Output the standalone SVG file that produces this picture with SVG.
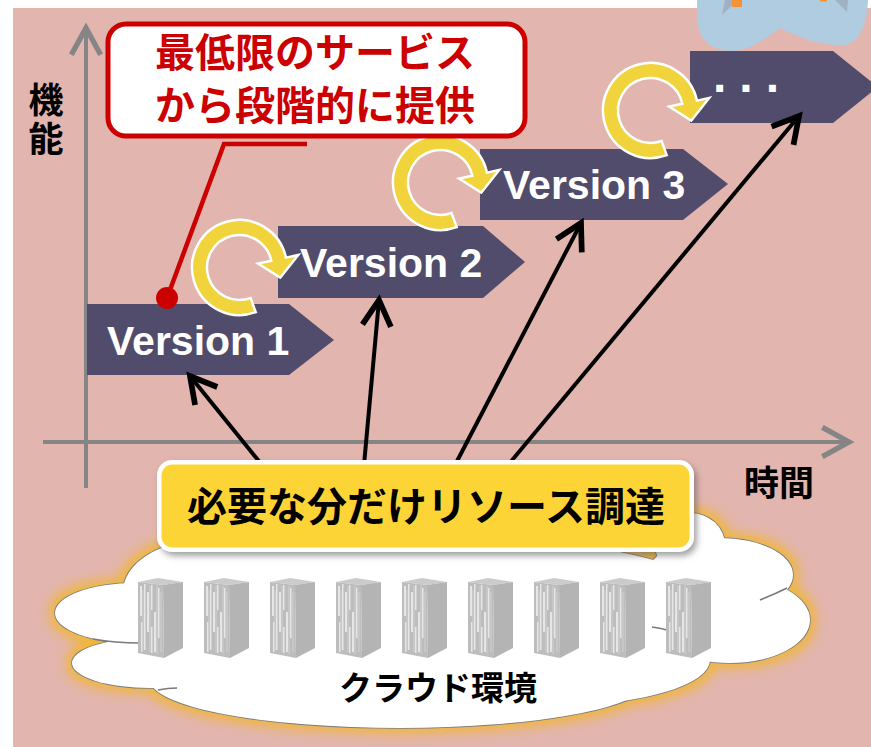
<svg xmlns="http://www.w3.org/2000/svg" width="871" height="747" viewBox="0 0 871 747">
  <style>
    .jp { font-family: "Noto Sans CJK JP", "Noto Sans", sans-serif; font-weight: 700; }
    .ver { font-family: "Liberation Sans", Arial, sans-serif; font-weight: 700; font-size: 41px; fill: #ffffff; }
    .step { fill: #514c6b; }
    .cycle { fill: #f1d33b; stroke: #ffffff; stroke-width: 2.5; }
    .axis { stroke: #858585; stroke-width: 4; fill: none; }
    .link { stroke: #000000; stroke-width: 4; fill: none; }
    .cloud-edge { fill: none; stroke: #7a7a7a; stroke-width: 1.6; }
    .cloud-fill { fill: #ffffff; }
  </style>
  <defs>
    <marker id="arrowBlack" markerUnits="userSpaceOnUse" markerWidth="40" markerHeight="40" viewBox="-22 -14 26 28" refX="0" refY="0" orient="auto">
      <path d="M-18,-10 L0,0 L-18,10" fill="none" stroke="#000" stroke-width="4" stroke-linejoin="miter"/>
    </marker>
    <marker id="arrowGray" markerUnits="userSpaceOnUse" markerWidth="40" markerHeight="40" viewBox="-24 -15 28 30" refX="0" refY="0" orient="auto">
      <path d="M-20,-11 L0,0 L-20,11" fill="none" stroke="#858585" stroke-width="4"/>
    </marker>
    <filter id="glow" x="-20%" y="-30%" width="140%" height="160%">
      <feMorphology operator="dilate" radius="5"/>
      <feGaussianBlur stdDeviation="6"/>
    </filter>
    <filter id="boxShadow" x="-10%" y="-20%" width="120%" height="150%">
      <feDropShadow dx="3" dy="4" stdDeviation="3" flood-color="#555" flood-opacity="0.55"/>
    </filter>
    <!-- circular "iterate" arrow centred on the origin -->
    <path id="cyclePath" d="M16.25,44.63 A47.5,47.5 0 1 1 46.46,-9.88 L58.69,-12.47 L40.75,10.16 L18.58,-3.95 L31.79,-6.76 A32.5,32.5 0 1 0 11.12,30.54 Z"/>
    <!-- server rack, front-top-left corner at the origin -->
    <g id="rack">
      <polygon points="0,0 20,-4 45,0 25,3" fill="#cbcbcb"/>
      <polygon points="25,3 45,0 45,66 26,76" fill="#b4b4b4"/>
      <polygon points="0,0 25,3 26,76 0,71" fill="#bdbdbd"/>
      <g fill="#e6e6e6">
        <rect x="2" y="4" width="2" height="30"/>
        <rect x="6" y="2" width="1.5" height="66"/>
        <rect x="9" y="10" width="2" height="40"/>
        <rect x="13" y="3" width="1.5" height="25"/>
        <rect x="16" y="30" width="2" height="40"/>
        <rect x="20" y="6" width="1.5" height="50"/>
        <rect x="3" y="40" width="1.5" height="30"/>
        <rect x="13" y="45" width="1.5" height="26"/>
      </g>
      <g fill="#d2d2d2">
        <rect x="4.5" y="8" width="1" height="60"/>
        <rect x="11.5" y="4" width="1" height="66"/>
        <rect x="18.5" y="4" width="1" height="68"/>
        <rect x="22.5" y="10" width="1" height="60"/>
      </g>
    </g>
    <g id="cloudShape">
      <ellipse cx="205" cy="592" rx="82" ry="52"/>
      <ellipse cx="135" cy="613" rx="80" ry="30"/>
      <ellipse cx="150" cy="663" rx="78" ry="25"/>
      <ellipse cx="400" cy="680" rx="250" ry="48"/>
      <ellipse cx="560" cy="660" rx="150" ry="45"/>
      <ellipse cx="730" cy="620" rx="80" ry="43"/>
      <ellipse cx="720" cy="575" rx="73" ry="37"/>
      <ellipse cx="690" cy="545" rx="35" ry="32"/>
      <ellipse cx="430" cy="610" rx="300" ry="75"/>
    </g>
  </defs>

  <!-- backdrop -->
  <rect x="0" y="0" width="871" height="747" fill="#ffffff"/>
  <rect x="13" y="8" width="858" height="739" fill="#e2b5ae"/>

  <!-- partial figure at the top right -->
  <g id="figure">
    <path d="M697,0 L697,18 C698,40 712,51 732,51 C752,50 766,38 780,28 C796,36 820,46 845,45 C862,42 867,20 868,0 Z" fill="#b0cce1"/>
    <polygon points="722,15 725,0 738,0" fill="#9fb2c4"/>
    <polygon points="835,0 848,0 847,12" fill="#9fb2c4"/>
    <rect x="732" y="0" width="10" height="7" fill="#f4923a"/>
    <rect x="820" y="0" width="7" height="1.5" fill="#f4923a"/>
  </g>

  <!-- axes -->
  <g id="axes">
    <line class="axis" x1="86" y1="488" x2="86" y2="28" marker-end="url(#arrowGray)"/>
    <line class="axis" x1="43" y1="442" x2="849" y2="442" marker-end="url(#arrowGray)"/>
    <text class="jp" x="46" y="82" font-size="35" writing-mode="vertical-rl" letter-spacing="4" fill="#000">機能</text>
    <text class="jp" x="779" y="496" font-size="35" text-anchor="middle" fill="#000">時間</text>
  </g>

  <!-- release steps -->
  <g id="version1">
    <polygon class="step" points="87,304 289,304 334,340 289,375 87,375"/>
    <text class="ver" x="107" y="355">Version 1</text>
  </g>
  <g id="version2">
    <polygon class="step" points="278,226 483,226 525,262 483,298 278,298"/>
    <text class="ver" x="300" y="277">Version 2</text>
  </g>
  <g id="version3">
    <polygon class="step" points="480,149 683,149 728,184 683,220 480,220"/>
    <text class="ver" x="503" y="199">Version 3</text>
  </g>
  <g id="versionNext">
    <polygon class="step" points="690,51 833,51 878,87 833,123 690,123"/>
    <text x="713" y="92" font-family="Liberation Sans, Arial, sans-serif" font-weight="700" font-size="48" letter-spacing="13" fill="#fff">...</text>
  </g>

  <!-- iteration loops -->
  <g id="cycle1"><use href="#cyclePath" class="cycle" transform="translate(239.5,267.5)"/></g>
  <g id="cycle2"><use href="#cyclePath" class="cycle" transform="translate(440.5,182.5)"/></g>
  <g id="cycle3"><use href="#cyclePath" class="cycle" transform="translate(650.5,110.5)"/></g>

  <!-- callout -->
  <g id="callout">
    <path d="M307,144 L224,144 L167,298" fill="none" stroke="#cc0000" stroke-width="4.5"/>
    <circle cx="167" cy="298" r="11" fill="#cc0000"/>
    <rect x="108" y="24" width="417" height="112" rx="18" ry="18" fill="#ffffff" stroke="#cc0000" stroke-width="5"/>
    <text class="jp" x="315" y="67" font-size="40" text-anchor="middle" fill="#cc0000">最低限のサービス</text>
    <text class="jp" x="315" y="120" font-size="40" text-anchor="middle" fill="#cc0000">から段階的に提供</text>
  </g>

  <!-- resource arrows -->
  <g id="connectors">
    <line class="link" x1="262" y1="465" x2="190" y2="376" marker-end="url(#arrowBlack)"/>
    <line class="link" x1="364" y1="465" x2="379" y2="300" marker-end="url(#arrowBlack)"/>
    <line class="link" x1="455" y1="465" x2="581" y2="223" marker-end="url(#arrowBlack)"/>
    <line class="link" x1="508" y1="465" x2="799" y2="116" marker-end="url(#arrowBlack)"/>
  </g>

  <!-- cloud environment -->
  <g id="cloud">
    <use href="#cloudShape" fill="#f0b63a" filter="url(#glow)"/>
    <use href="#cloudShape" class="cloud-edge"/>
    <use href="#cloudShape" class="cloud-fill"/>
    <g class="cloud-edge">
      <path d="M158,690 Q168,688 177,688"/>
      <path d="M93,639 Q115,643 140,643"/>
      <path d="M760,600 Q775,594 787,588"/>
      <path d="M652,627 Q660,628 667,630"/>
    </g>
    <use href="#rack" x="138" y="582"/>
    <use href="#rack" x="204" y="582"/>
    <use href="#rack" x="270" y="582"/>
    <use href="#rack" x="336" y="582"/>
    <use href="#rack" x="402" y="582"/>
    <use href="#rack" x="468" y="582"/>
    <use href="#rack" x="534" y="582"/>
    <use href="#rack" x="600" y="582"/>
    <use href="#rack" x="666" y="582"/>
    <text class="jp" x="438" y="700" font-size="33" text-anchor="middle" fill="#000">クラウド環境</text>
  </g>

  <!-- provisioning label -->
  <g id="provision">
    <rect x="157" y="460" width="537" height="92" rx="15" ry="15" fill="#ffffff" filter="url(#boxShadow)"/>
    <rect x="161.5" y="464.5" width="528" height="83" rx="11" ry="11" fill="#fdd436"/>
    <text class="jp" x="426" y="521" font-size="40" text-anchor="middle" fill="#000">必要な分だけリソース調達</text>
  </g>
</svg>
